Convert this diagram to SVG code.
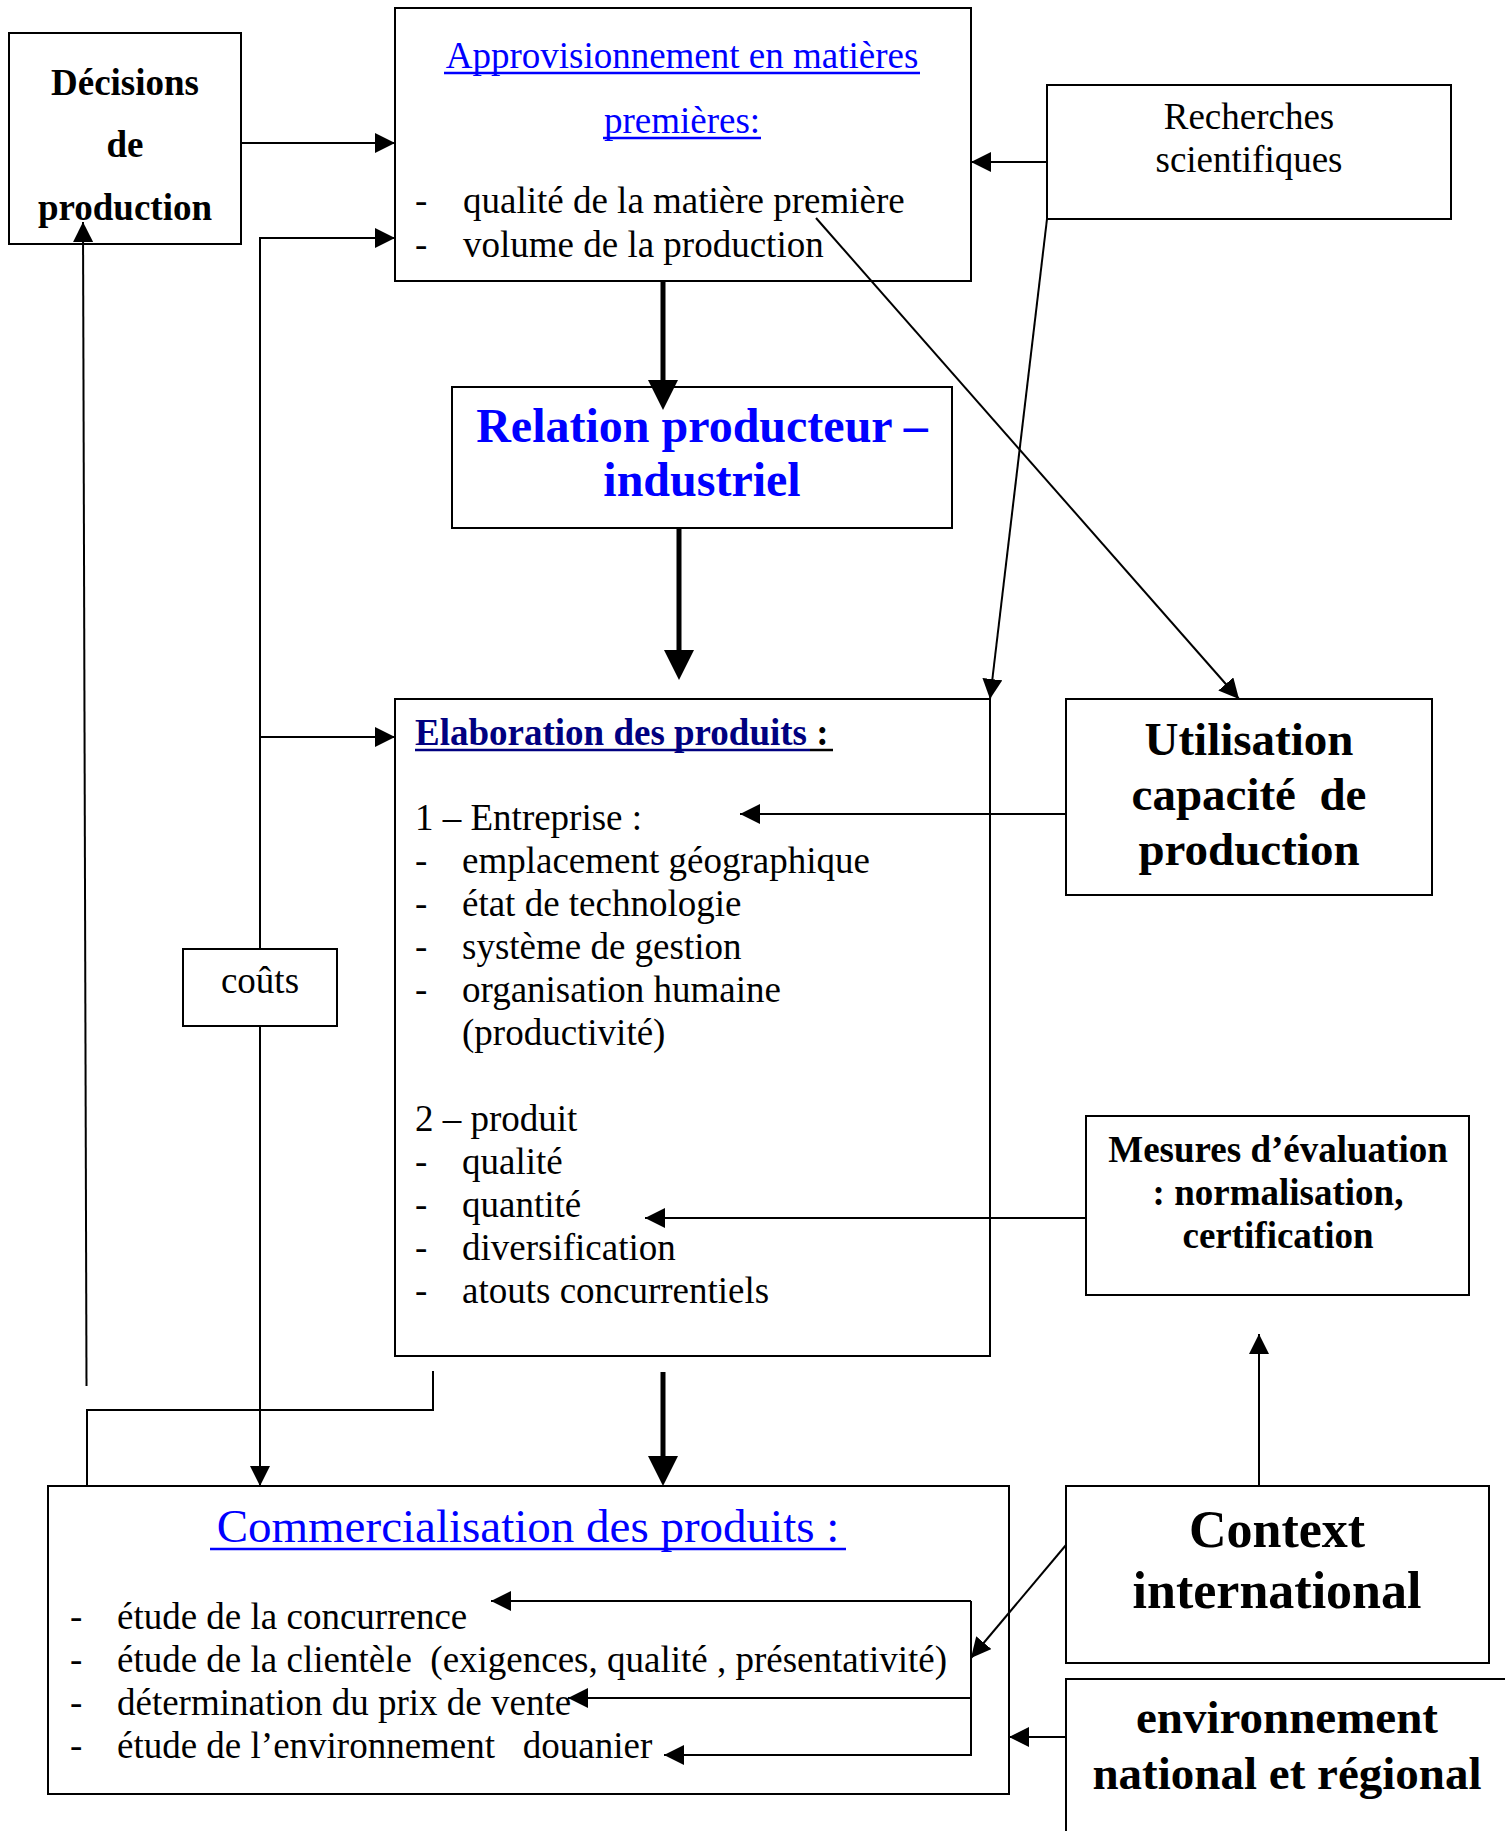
<svg xmlns="http://www.w3.org/2000/svg" width="1505" height="1831" viewBox="0 0 1505 1831">
<style>
  .box { fill: #fff; stroke: #000; stroke-width: 2; }
  .t { font-family: "Liberation Serif", "Times New Roman", serif; font-size: 37px; fill: #000; }
  .b { font-weight: bold; }
  .c { text-anchor: middle; }
  .blue { fill: #0000FF; }
  .navy { fill: #000080; }
  .ln { fill: none; stroke: #000; stroke-width: 2; }
  .thick { fill: none; stroke: #000; stroke-width: 5; }
  .ul { stroke-width: 2.5; }
</style>
<defs>
  <marker id="a" viewBox="0 0 20 20" refX="20" refY="10" markerWidth="20" markerHeight="20" markerUnits="userSpaceOnUse" orient="auto">
    <path d="M0,0 L20,10 L0,20 z" fill="#000"/>
  </marker>
  <marker id="T" viewBox="0 0 30 30" refX="10" refY="15" markerWidth="30" markerHeight="30" markerUnits="userSpaceOnUse" orient="auto">
    <path d="M0,0 L30,15 L0,30 z" fill="#000"/>
  </marker>
</defs>
<rect width="1505" height="1831" fill="#fff"/>

<g id="decisions">
  <rect class="box" x="9" y="33" width="232" height="211"/>
  <text class="t b c" x="125" y="95">Décisions</text>
  <text class="t b c" x="125" y="157">de</text>
  <text class="t b c" x="125" y="220">production</text>
</g>

<g id="approvisionnement">
  <rect class="box" x="395" y="8" width="576" height="273"/>
  <text class="t c blue" x="682" y="68">Approvisionnement en matières</text>
  <line class="ul" x1="444" y1="73" x2="920" y2="73" stroke="#0000FF"/>
  <text class="t c blue" x="682" y="133">premières:</text>
  <line class="ul" x1="603" y1="138" x2="761" y2="138" stroke="#0000FF"/>
  <text class="t" x="415" y="213">-</text>
  <text class="t" x="463" y="213">qualité de la matière première</text>
  <text class="t" x="415" y="257">-</text>
  <text class="t" x="463" y="257">volume de la production</text>
</g>

<g id="recherches">
  <rect class="box" x="1047" y="85" width="404" height="134"/>
  <text class="t c" x="1249" y="129">Recherches</text>
  <text class="t c" x="1249" y="172">scientifiques</text>
</g>

<g id="relation">
  <rect class="box" x="452" y="387" width="500" height="141"/>
  <text class="t b c blue" x="702" y="442" style="font-size:48px">Relation producteur –</text>
  <text class="t b c blue" x="702" y="496" style="font-size:48px">industriel</text>
</g>

<g id="elaboration">
  <rect class="box" x="395" y="699" width="595" height="657"/>
  <text class="t b" x="415" y="745"><tspan class="navy">Elaboration des produits</tspan> :</text>
  <line class="ul" x1="415" y1="750" x2="810" y2="750" stroke="#000080"/>
  <line class="ul" x1="810" y1="750" x2="833" y2="750" stroke="#000"/>
  <text class="t" x="415" y="830">1 – Entreprise :</text>
  <text class="t" x="415" y="873">-</text><text class="t" x="462" y="873">emplacement géographique</text>
  <text class="t" x="415" y="916">-</text><text class="t" x="462" y="916">état de technologie</text>
  <text class="t" x="415" y="959">-</text><text class="t" x="462" y="959">système de gestion</text>
  <text class="t" x="415" y="1002">-</text><text class="t" x="462" y="1002">organisation humaine</text>
  <text class="t" x="462" y="1045">(productivité)</text>
  <text class="t" x="415" y="1131">2 – produit</text>
  <text class="t" x="415" y="1174">-</text><text class="t" x="462" y="1174">qualité</text>
  <text class="t" x="415" y="1217">-</text><text class="t" x="462" y="1217">quantité</text>
  <text class="t" x="415" y="1260">-</text><text class="t" x="462" y="1260">diversification</text>
  <text class="t" x="415" y="1303">-</text><text class="t" x="462" y="1303">atouts concurrentiels</text>
</g>

<g id="utilisation">
  <rect class="box" x="1066" y="699" width="366" height="196"/>
  <text class="t b c" x="1249" y="755" style="font-size:47px">Utilisation</text>
  <text class="t b c" x="1249" y="810" style="font-size:47px" xml:space="preserve">capacité  de</text>
  <text class="t b c" x="1249" y="865" style="font-size:47px">production</text>
</g>

<g id="couts">
  <rect class="box" x="183" y="949" width="154" height="77"/>
  <text class="t c" x="260" y="993">coûts</text>
</g>

<g id="mesures">
  <rect class="box" x="1086" y="1116" width="383" height="179"/>
  <text class="t b c" x="1278" y="1162">Mesures d’évaluation</text>
  <text class="t b c" x="1278" y="1205">: normalisation,</text>
  <text class="t b c" x="1278" y="1248">certification</text>
</g>

<g id="commercialisation">
  <rect class="box" x="48" y="1486" width="961" height="308"/>
  <text class="t c blue" x="528" y="1542" style="font-size:47px">Commercialisation des produits :</text>
  <line class="ul" x1="210" y1="1549" x2="846" y2="1549" stroke="#0000FF"/>
  <text class="t" x="70" y="1629">-</text><text class="t" x="117" y="1629">étude de la concurrence</text>
  <text class="t" x="70" y="1672">-</text><text class="t" x="117" y="1672" xml:space="preserve">étude de la clientèle  (exigences, qualité , présentativité)</text>
  <text class="t" x="70" y="1715">-</text><text class="t" x="117" y="1715">détermination du prix de vente</text>
  <text class="t" x="70" y="1758">-</text><text class="t" x="117" y="1758" xml:space="preserve">étude de l’environnement   douanier</text>
</g>

<g id="context">
  <rect class="box" x="1066" y="1486" width="423" height="177"/>
  <text class="t b c" x="1277" y="1547" style="font-size:52px">Context</text>
  <text class="t b c" x="1277" y="1608" style="font-size:52px">international</text>
</g>

<g id="environnement">
  <path class="box" d="M1066,1831 V1679 H1505"/>
  <text class="t b c" x="1287" y="1733" style="font-size:47px">environnement</text>
  <text class="t b c" x="1287" y="1789" style="font-size:47px">national et régional</text>
</g>

<g id="connectors">
  <path class="ln" d="M241,143 H395" marker-end="url(#a)"/>
  <path class="ln" d="M260,949 V238 H395" marker-end="url(#a)"/>
  <path class="ln" d="M260,737 H395" marker-end="url(#a)"/>
  <path class="ln" d="M260,1026 V1486" marker-end="url(#a)"/>
  <path class="ln" d="M86.5,1386 L83,222" marker-end="url(#a)"/>
  <path class="ln" d="M87,1486 V1410 H433 V1371"/>
  <path class="thick" d="M663,281 V390" marker-end="url(#T)"/>
  <path class="thick" d="M679,528 V660" marker-end="url(#T)"/>
  <path class="thick" d="M663,1372 V1466" marker-end="url(#T)"/>
  <path class="ln" d="M1047,162 H971" marker-end="url(#a)"/>
  <path class="ln" d="M1047,219 L990,699" marker-end="url(#a)"/>
  <path class="ln" d="M816,218 L1239,699" marker-end="url(#a)"/>
  <path class="ln" d="M1066,814 H740" marker-end="url(#a)"/>
  <path class="ln" d="M1086,1218 H645" marker-end="url(#a)"/>
  <path class="ln" d="M1259,1486 V1334" marker-end="url(#a)"/>
  <path class="ln" d="M1066,1545 L971,1658" marker-end="url(#a)"/>
  <path class="ln" d="M1066,1737 H1009" marker-end="url(#a)"/>
  <path class="ln" d="M971,1601 H491" marker-end="url(#a)"/>
  <path class="ln" d="M971,1601 V1755 H664" marker-end="url(#a)"/>
  <path class="ln" d="M971,1698 H568" marker-end="url(#a)"/>
</g>
</svg>
